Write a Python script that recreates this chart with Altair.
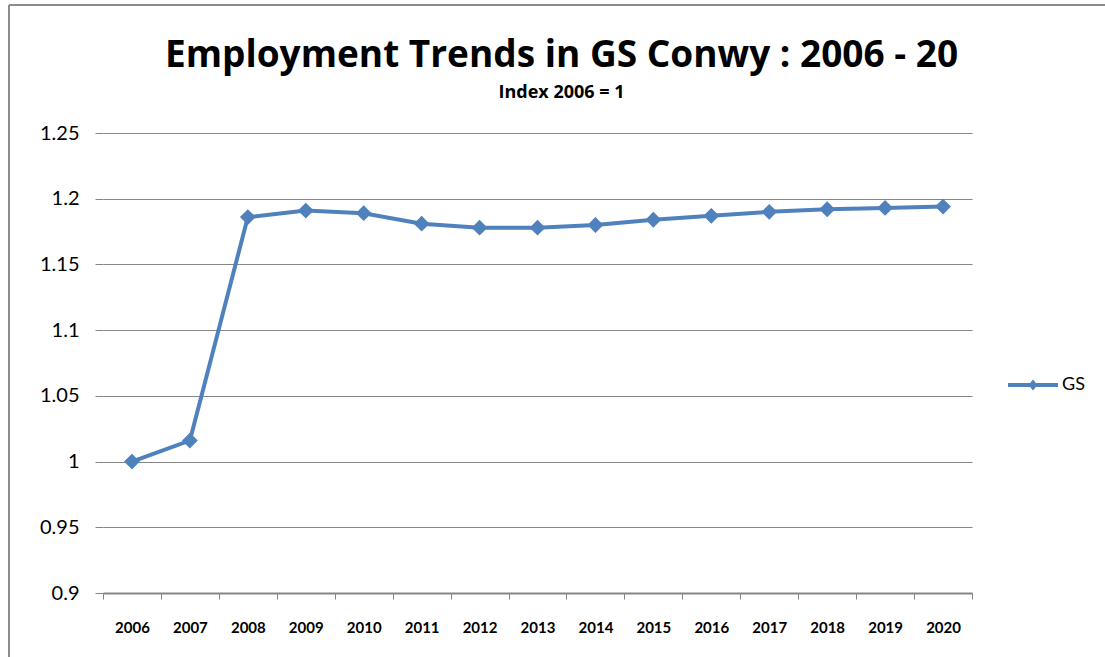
import altair as alt
import pandas as pd

years = [str(y) for y in range(2006, 2021)]
gs_index = [1.000, 1.016, 1.186, 1.191, 1.189, 1.181, 1.178, 1.178,
            1.180, 1.184, 1.187, 1.190, 1.192, 1.193, 1.194]
series_name = ["GS"] * len(years)
y_ticks = [0.9, 0.95, 1.0, 1.05, 1.1, 1.15, 1.2, 1.25]

df = pd.DataFrame({"year": years, "value": gs_index, "series": series_name})

BLUE = "#4F81BD"
GRID = "#868686"
FONT = "Lato"
TFONT = "Open Sans"

x_enc = alt.X(
    "year:O",
    bandPosition=0.5,
    scale=alt.Scale(type="band", paddingInner=0, paddingOuter=0),
    axis=alt.Axis(
        title=None, labelAngle=0, tickBand="extent", grid=False,
        domainColor=GRID, domainWidth=2, tickColor=GRID, tickSize=6,
        labelFont=FONT, labelFontSize=15, labelFontWeight="bold",
        labelColor="black", labelPadding=21,
    ),
)
y_enc = alt.Y(
    "value:Q",
    scale=alt.Scale(domain=[0.9, 1.25], nice=False, zero=False),
    axis=alt.Axis(
        title=None, values=y_ticks, format="~g", domain=False,
        grid=True, gridColor=GRID, gridWidth=1, tickColor=GRID, tickSize=8,
        labelFont=FONT, labelFontSize=20, labelColor="black", labelPadding=16,
    ),
)

base = alt.Chart(df)

line = base.mark_line(color=BLUE, strokeWidth=4).encode(x=x_enc, y=y_enc)

points = base.mark_point(shape="diamond", filled=True, size=250, opacity=1).encode(
    x=x_enc,
    y=y_enc,
    color=alt.Color(
        "series:N",
        scale=alt.Scale(range=[BLUE]),
        legend=alt.Legend(
            title=None, orient="none", legendX=905, legendY=227,
            symbolType="M-1,-0.08H1V0.08H-1Z M0,-0.22L0.18,0L0,0.22L-0.18,0Z",
            symbolSize=2500, symbolStrokeWidth=0, labelOffset=4,
            labelFont=FONT, labelFontSize=18, labelColor="black", padding=0,
        ),
    ),
)

border = pd.DataFrame({"k": [0]})
top_border = alt.Chart(border).mark_rule(color="#8c8c8c", strokeWidth=2).encode(
    x=alt.value(-94), x2=alt.value(1002), y=alt.value(-128)
)
left_border = alt.Chart(border).mark_rule(color="#8c8c8c", strokeWidth=2).encode(
    x=alt.value(-94), y=alt.value(-128), y2=alt.value(524)
)

chart = alt.layer(top_border, left_border, line, points).properties(
    width=869,
    height=460,
    title=alt.TitleParams(
        text="Employment Trends in GS Conwy : 2006 - 20",
        subtitle="Index 2006 = 1",
        font=TFONT, fontSize=37, fontWeight="bold", color="black",
        subtitleFont=TFONT, subtitleFontSize=18, subtitleFontWeight="bold",
        subtitleColor="black", subtitlePadding=9,
        anchor="middle", frame="group", dx=24, offset=-99,
    ),
    autosize=alt.AutoSizeParams(type="none"),
    padding={"left": 103, "top": 133, "right": 133, "bottom": 64},
    background="white",
).configure_view(stroke=None)

chart.save("out.html", embed_options={"renderer": "svg", "actions": False})
